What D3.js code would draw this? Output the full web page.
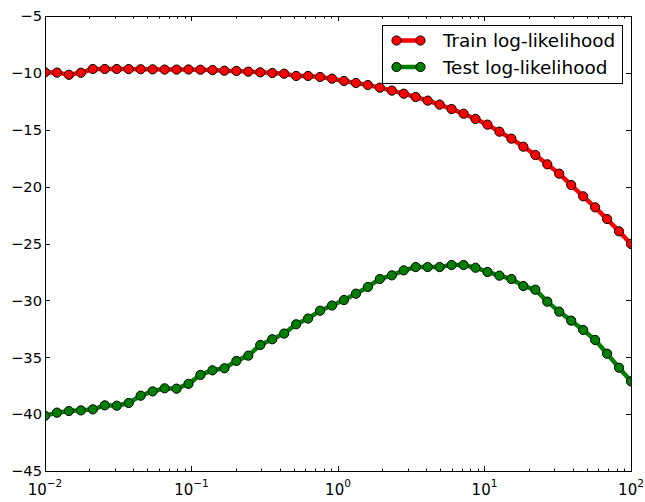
<!DOCTYPE html>
<html>
<head>
<meta charset="utf-8">
<script src="https://cdn.jsdelivr.net/npm/d3@7"></script>
<style>
  html, body { margin: 0; padding: 0; background: #fff; }
  #chart { width: 645px; height: 502px; }
  text { font-family: "DejaVu Sans", sans-serif; fill: #000; }
</style>
</head>
<body>
<div id="chart"></div>
<script>
// Regularisation strength (log-spaced), one entry per point
const lambdas = [
  0.01, 0.01207, 0.01456, 0.01758, 0.02121, 0.02560, 0.03089, 0.03728, 0.04498, 0.05429,
  0.06551, 0.07906, 0.09541, 0.1151, 0.1390, 0.1677, 0.2024, 0.2442, 0.2947, 0.3556,
  0.4292, 0.5179, 0.6251, 0.7543, 0.9103, 1.0985, 1.3257, 1.5999, 1.9307, 2.3300,
  2.8118, 3.3932, 4.0949, 4.9417, 5.9636, 7.1969, 8.6851, 10.481, 12.649, 15.264,
  18.421, 22.230, 26.827, 32.375, 39.069, 47.149, 56.899, 68.665, 82.864, 100
];

const trainLL = [
  -9.95, -9.98, -10.17, -9.99, -9.66, -9.66, -9.66, -9.67, -9.68, -9.69,
  -9.71, -9.71, -9.70, -9.72, -9.75, -9.81, -9.83, -9.89, -9.95, -10.01,
  -10.07, -10.27, -10.27, -10.36, -10.51, -10.71, -10.89, -11.07, -11.30, -11.56,
  -11.83, -12.12, -12.44, -12.79, -13.18, -13.59, -14.05, -14.55, -15.17, -15.78,
  -16.49, -17.22, -18.04, -18.86, -19.86, -20.85, -21.82, -22.85, -23.93, -25.04
];

const testLL = [
  -40.15, -39.87, -39.73, -39.67, -39.58, -39.23, -39.26, -39.02, -38.38, -38.00,
  -37.73, -37.76, -37.34, -36.55, -36.15, -35.97, -35.32, -34.86, -33.92, -33.42,
  -32.92, -32.10, -31.60, -30.91, -30.45, -29.97, -29.41, -28.82, -28.12, -27.80,
  -27.36, -27.07, -27.07, -27.07, -26.89, -26.89, -27.13, -27.50, -27.83, -28.12,
  -28.74, -29.06, -30.11, -30.99, -31.78, -32.60, -33.48, -34.69, -35.92, -37.12
];

const xTicks = [0.01, 0.1, 1, 10, 100];
const xTickExp = ["\u22122", "\u22121", "0", "1", "2"];
const yTicks = [-45, -40, -35, -30, -25, -20, -15, -10, -5];

const seriesNames = ["Train log-likelihood", "Test log-likelihood"];
const seriesColors = ["#ff0000", "#008000"];

const W = 645, H = 502;
const M = { top: 16, right: 14, bottom: 31, left: 45 };
const iW = W - M.left - M.right;
const iH = H - M.top - M.bottom;

const svg = d3.select("#chart").append("svg")
  .attr("width", W).attr("height", H);
const g = svg.append("g").attr("transform", `translate(${M.left},${M.top})`);

const x = d3.scaleLog().domain([0.01, 100]).range([0, iW]);
const y = d3.scaleLinear().domain([-45, -5]).range([iH, 0]);

svg.append("defs").append("clipPath").attr("id", "plot-clip")
  .append("rect").attr("width", iW).attr("height", iH);

// Minor ticks 2..9 per decade
const minor = [];
xTicks.slice(0, -1).forEach(t => { for (let k = 2; k <= 9; k++) minor.push(t * k); });

const tickG = g.append("g").attr("stroke", "#000").attr("stroke-width", 1);
// x ticks, inward, top and bottom
xTicks.forEach(t => {
  const px = Math.round(x(t)) + 0.5;
  tickG.append("line").attr("x1", px).attr("x2", px).attr("y1", iH).attr("y2", iH - 5);
  tickG.append("line").attr("x1", px).attr("x2", px).attr("y1", 0).attr("y2", 5);
});
minor.forEach(t => {
  const px = Math.round(x(t)) + 0.5;
  tickG.append("line").attr("x1", px).attr("x2", px).attr("y1", iH).attr("y2", iH - 2.5);
  tickG.append("line").attr("x1", px).attr("x2", px).attr("y1", 0).attr("y2", 2.5);
});
// y ticks, inward, left and right
yTicks.forEach(t => {
  const py = Math.round(y(t)) + 0.5;
  tickG.append("line").attr("x1", 0).attr("x2", 5).attr("y1", py).attr("y2", py);
  tickG.append("line").attr("x1", iW).attr("x2", iW - 5).attr("y1", py).attr("y2", py);
});

// Series lines + markers
const series = [trainLL, testLL];
const line = d3.line().x((d, i) => x(lambdas[i])).y(d => y(d));
const plot = g.append("g").attr("clip-path", "url(#plot-clip)");

series.forEach((vals, s) => {
  plot.append("path").datum(vals)
    .attr("fill", "none").attr("stroke", seriesColors[s])
    .attr("stroke-width", 4.5).attr("stroke-linejoin", "round")
    .attr("d", line);
  plot.selectAll(`.dot${s}`).data(vals).join("circle")
    .attr("cx", (d, i) => x(lambdas[i])).attr("cy", d => y(d))
    .attr("r", 4.6).attr("fill", seriesColors[s])
    .attr("stroke", "#000").attr("stroke-width", 1);
});

// Frame
g.append("rect").attr("x", 0.5).attr("y", 0.5)
  .attr("width", iW).attr("height", iH)
  .attr("fill", "none").attr("stroke", "#000").attr("stroke-width", 1);

// Y tick labels
g.append("g").selectAll("text").data(yTicks).join("text")
  .attr("x", -3).attr("y", d => y(d)).attr("dy", "0.36em")
  .attr("text-anchor", "end").attr("font-size", 14.7)
  .text(d => d < 0 ? "\u2212" + Math.abs(d) : d);

// X tick labels: 10^k
const xl = g.append("g").selectAll("text").data(xTicks).join("text")
  .attr("x", d => x(d)).attr("y", iH + 24)
  .attr("text-anchor", "middle").attr("font-size", 15);
xl.append("tspan").text("10");
xl.append("tspan").attr("font-size", 10.5).attr("dy", -8).text((d, i) => xTickExp[i]);

// Legend
const lg = g.append("g").attr("transform", `translate(${iW - 249},9)`);
lg.append("rect").attr("x", 0.5).attr("y", 0.5).attr("width", 240).attr("height", 58)
  .attr("fill", "#fff").attr("stroke", "#000").attr("stroke-width", 1);
seriesNames.forEach((name, s) => {
  const ly = 15.5 + s * 26.5;
  lg.append("line").attr("x1", 10).attr("x2", 40).attr("y1", ly).attr("y2", ly)
    .attr("stroke", seriesColors[s]).attr("stroke-width", 4.5);
  [14.5, 38.5].forEach(cx => lg.append("circle").attr("cx", cx).attr("cy", ly)
    .attr("r", 4.6).attr("fill", seriesColors[s]).attr("stroke", "#000"));
  lg.append("text").attr("x", 61).attr("y", ly).attr("dy", "0.36em")
    .attr("font-size", 18.4).text(name);
});
</script>
</body>
</html>
